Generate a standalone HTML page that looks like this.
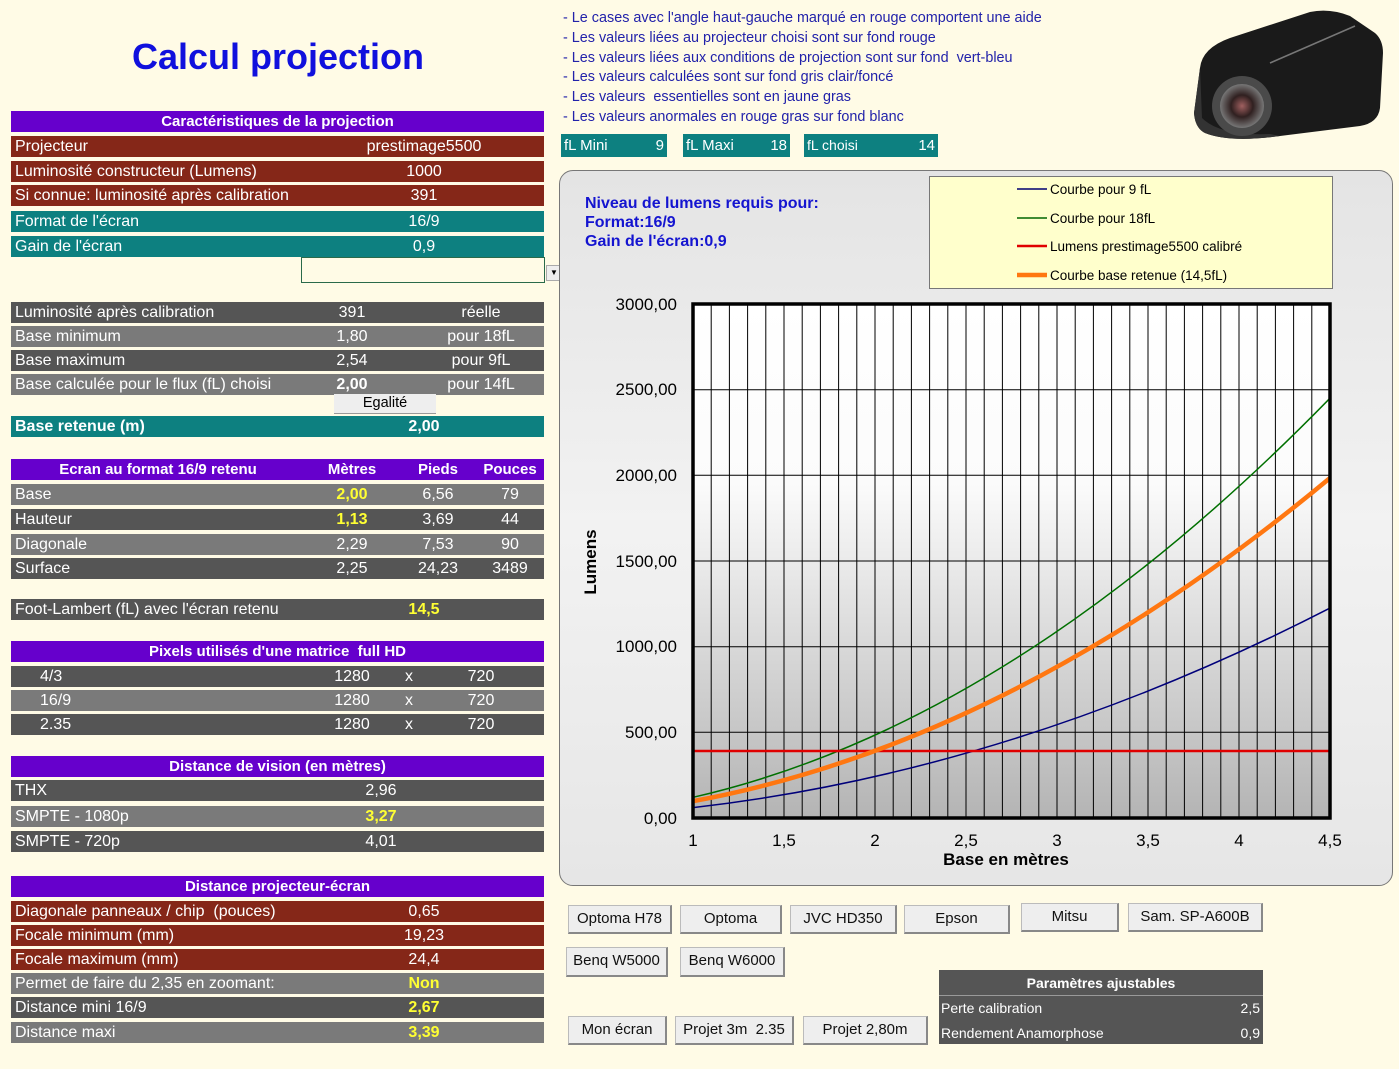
<!DOCTYPE html>
<html><head><meta charset="utf-8"><style>
body{margin:0;width:1399px;height:1069px;background:#fffbe6;position:relative;overflow:hidden;font-family:"Liberation Sans",Arial,sans-serif}
.r{position:absolute;left:11px;width:533px;height:21px;color:#fff;font-size:16px;line-height:21px;white-space:nowrap}
.r span{position:absolute;top:0}
.l{left:4px}
.c{transform:translateX(-50%)}
.P{background:#6600cc;font-weight:bold;text-align:center;font-size:15px}
.B{background:#852718}.T{background:#0d8080}.D{background:#555}.G{background:#7a7a7a}
.y{color:#ffff33;font-weight:bold}
.btn{position:absolute;background:#eeeeee;border:1px solid #bbb;border-right:2px solid #888;border-bottom:2px solid #888;font-size:15px;text-align:center;line-height:26px;color:#111;box-sizing:border-box}
.note{position:absolute;left:563px;font-size:14.4px;color:#2222aa}
.fl{position:absolute;top:134px;height:23px;background:#0d8080;color:#fff;font-size:15px;line-height:23px}
</style></head><body>
<div style="position:absolute;left:0;width:556px;top:36px;text-align:center;font-size:36px;font-weight:bold;color:#1010dd">Calcul projection</div>

<div class="r P" style="top:111px">Caractéristiques de la projection</div>
<div class="r B" style="top:136px"><span class="l">Projecteur</span><span class="c" style="left:413px">prestimage5500</span></div>
<div class="r B" style="top:161px"><span class="l">Luminosité constructeur (Lumens)</span><span class="c" style="left:413px">1000</span></div>
<div class="r B" style="top:185px"><span class="l">Si connue: luminosité après calibration</span><span class="c" style="left:413px">391</span></div>
<div class="r T" style="top:211px"><span class="l">Format de l'écran</span><span class="c" style="left:413px">16/9</span></div>
<div class="r T" style="top:236px"><span class="l">Gain de l'écran</span><span class="c" style="left:413px">0,9</span></div>
<div style="position:absolute;left:301px;top:257px;width:242px;height:24px;border:1px solid #2a6a4a;background:#fffbe6"></div>
<div style="position:absolute;left:546px;top:265px;width:14px;height:14px;background:#eee;border:1px solid #aaa;font-size:8px;text-align:center;line-height:14px">▼</div>

<div class="r D" style="top:302px"><span class="l">Luminosité après calibration</span><span class="c" style="left:341px">391</span><span class="c" style="left:470px">réelle</span></div>
<div class="r G" style="top:326px"><span class="l">Base minimum</span><span class="c" style="left:341px">1,80</span><span class="c" style="left:470px">pour 18fL</span></div>
<div class="r D" style="top:350px"><span class="l">Base maximum</span><span class="c" style="left:341px">2,54</span><span class="c" style="left:470px">pour 9fL</span></div>
<div class="r G" style="top:374px"><span class="l">Base calculée pour le flux (fL) choisi</span><span class="c" style="left:341px;font-weight:bold">2,00</span><span class="c" style="left:470px">pour 14fL</span></div>
<div style="position:absolute;left:334px;top:394px;width:102px;height:19px;background:#eee;border-bottom:1px solid #999;font-size:14.5px;text-align:center;line-height:19px">Egalité</div>
<div class="r T" style="top:416px;font-weight:bold"><span class="l">Base retenue (m)</span><span class="c" style="left:413px">2,00</span></div>

<div class="r P" style="top:459px"><span class="c" style="left:147px">Ecran au format 16/9 retenu</span><span class="c" style="left:341px">Mètres</span><span class="c" style="left:427px">Pieds</span><span class="c" style="left:499px">Pouces</span></div>
<div class="r G" style="top:484px"><span class="l">Base</span><span class="c y" style="left:341px">2,00</span><span class="c" style="left:427px">6,56</span><span class="c" style="left:499px">79</span></div>
<div class="r D" style="top:509px"><span class="l">Hauteur</span><span class="c y" style="left:341px">1,13</span><span class="c" style="left:427px">3,69</span><span class="c" style="left:499px">44</span></div>
<div class="r G" style="top:534px"><span class="l">Diagonale</span><span class="c" style="left:341px">2,29</span><span class="c" style="left:427px">7,53</span><span class="c" style="left:499px">90</span></div>
<div class="r D" style="top:558px"><span class="l">Surface</span><span class="c" style="left:341px">2,25</span><span class="c" style="left:427px">24,23</span><span class="c" style="left:499px">3489</span></div>

<div class="r D" style="top:599px"><span class="l">Foot-Lambert (fL) avec l'écran retenu</span><span class="c y" style="left:413px">14,5</span></div>

<div class="r P" style="top:641px">Pixels utilisés d'une matrice&nbsp; full HD</div>
<div class="r D" style="top:666px"><span style="left:29px">4/3</span><span class="c" style="left:341px">1280</span><span class="c" style="left:398px">x</span><span class="c" style="left:470px">720</span></div>
<div class="r G" style="top:690px"><span style="left:29px">16/9</span><span class="c" style="left:341px">1280</span><span class="c" style="left:398px">x</span><span class="c" style="left:470px">720</span></div>
<div class="r D" style="top:714px"><span style="left:29px">2.35</span><span class="c" style="left:341px">1280</span><span class="c" style="left:398px">x</span><span class="c" style="left:470px">720</span></div>

<div class="r P" style="top:756px">Distance de vision (en mètres)</div>
<div class="r D" style="top:780px"><span class="l">THX</span><span class="c" style="left:370px">2,96</span></div>
<div class="r G" style="top:806px"><span class="l">SMPTE - 1080p</span><span class="c y" style="left:370px">3,27</span></div>
<div class="r D" style="top:831px"><span class="l">SMPTE - 720p</span><span class="c" style="left:370px">4,01</span></div>

<div class="r P" style="top:876px">Distance projecteur-écran</div>
<div class="r B" style="top:901px"><span class="l">Diagonale panneaux / chip&nbsp; (pouces)</span><span class="c" style="left:413px">0,65</span></div>
<div class="r B" style="top:925px"><span class="l">Focale minimum (mm)</span><span class="c" style="left:413px">19,23</span></div>
<div class="r B" style="top:949px"><span class="l">Focale maximum (mm)</span><span class="c" style="left:413px">24,4</span></div>
<div class="r G" style="top:973px"><span class="l">Permet de faire du 2,35 en zoomant:</span><span class="c y" style="left:413px">Non</span></div>
<div class="r D" style="top:997px"><span class="l">Distance mini 16/9</span><span class="c y" style="left:413px">2,67</span></div>
<div class="r G" style="top:1022px"><span class="l">Distance maxi</span><span class="c y" style="left:413px">3,39</span></div>

<div class="note" style="top:10px">- Le cases avec l'angle haut-gauche marqué en rouge comportent une aide</div>
<div class="note" style="top:30px">- Les valeurs liées au projecteur choisi sont sur fond rouge</div>
<div class="note" style="top:50px">- Les valeurs liées aux conditions de projection sont sur fond&nbsp; vert-bleu</div>
<div class="note" style="top:69px">- Les valeurs calculées sont sur fond gris clair/foncé</div>
<div class="note" style="top:89px">- Les valeurs&nbsp; essentielles sont en jaune gras</div>
<div class="note" style="top:109px">- Les valeurs anormales en rouge gras sur fond blanc</div>

<div class="fl" style="left:561px;width:106px"><span style="position:absolute;left:3px">fL Mini</span><span style="position:absolute;right:3px">9</span></div>
<div class="fl" style="left:683px;width:107px"><span style="position:absolute;left:3px">fL Maxi</span><span style="position:absolute;right:3px">18</span></div>
<div class="fl" style="left:804px;width:134px"><span style="position:absolute;left:3px;font-size:14px">fL choisi</span><span style="position:absolute;right:3px">14</span></div>

<svg style="position:absolute;left:1190px;top:8px" width="200" height="135">
<defs><radialGradient id="ln" cx="50%" cy="50%" r="50%"><stop offset="0" stop-color="#a06060"/><stop offset="0.5" stop-color="#302020"/><stop offset="1" stop-color="#777"/></radialGradient></defs>
<path d="M10,60 Q12,40 40,30 L120,4 Q140,0 160,8 L185,25 Q193,32 193,45 L190,100 Q188,115 170,118 L90,128 Q40,135 15,125 Q5,120 4,105 Z" fill="#1a1a1a"/>
<path d="M10,60 L12,110 Q30,128 80,126 L90,128 Q40,135 15,125 Q5,120 4,105 Z" fill="#333"/>
<path d="M80,55 L165,18" stroke="#777" stroke-width="1.5"/>
<circle cx="52" cy="98" r="30" fill="#4a4a4a"/><circle cx="52" cy="98" r="22" fill="url(#ln)"/>
</svg>

<div style="position:absolute;left:559px;top:170px;width:834px;height:716px;border:1px solid #777;border-radius:14px;background:linear-gradient(#e4e4e4,#f2f2f2 50%,#e6e6e6);box-sizing:border-box"></div>
<div style="position:absolute;left:585px;top:194px;font-size:16px;font-weight:bold;color:#1414d0;line-height:19px">Niveau de lumens requis pour:<br>Format:16/9<br>Gain de l'écran:0,9</div>
<div style="position:absolute;left:929px;top:176px;width:404px;height:113px;background:#ffffcc;border:1px solid #777;box-sizing:border-box"></div>
<svg style="position:absolute;left:0;top:0" width="1399" height="1069">
<defs><linearGradient id="pg" x1="0" y1="0" x2="0" y2="1"><stop offset="0" stop-color="#fff"/><stop offset="0.35" stop-color="#fbfbfb"/><stop offset="1" stop-color="#b4b4b4"/></linearGradient></defs>
<g font-family="Liberation Sans" font-size="13.5" fill="#000">
<line x1="1017" y1="189" x2="1047" y2="189" stroke="#000070" stroke-width="1.5"/><text x="1050" y="194">Courbe pour 9 fL</text>
<line x1="1017" y1="218" x2="1047" y2="218" stroke="#006600" stroke-width="1.5"/><text x="1050" y="223">Courbe pour 18fL</text>
<line x1="1017" y1="246" x2="1047" y2="246" stroke="#e00000" stroke-width="2.5"/><text x="1050" y="251">Lumens prestimage5500 calibré</text>
<line x1="1017" y1="275" x2="1047" y2="275" stroke="#ff7711" stroke-width="4.5"/><text x="1050" y="280">Courbe base retenue (14,5fL)</text>
</g>
<rect x="693" y="304" width="637" height="514" fill="url(#pg)"/>
<g stroke="#000" stroke-width="1">
<line x1="711.2" y1="304" x2="711.2" y2="818"/><line x1="729.4" y1="304" x2="729.4" y2="818"/><line x1="747.6" y1="304" x2="747.6" y2="818"/><line x1="765.8" y1="304" x2="765.8" y2="818"/><line x1="784" y1="304" x2="784" y2="818"/><line x1="802.2" y1="304" x2="802.2" y2="818"/><line x1="820.4" y1="304" x2="820.4" y2="818"/><line x1="838.6" y1="304" x2="838.6" y2="818"/><line x1="856.8" y1="304" x2="856.8" y2="818"/><line x1="875" y1="304" x2="875" y2="818"/><line x1="893.2" y1="304" x2="893.2" y2="818"/><line x1="911.4" y1="304" x2="911.4" y2="818"/><line x1="929.6" y1="304" x2="929.6" y2="818"/><line x1="947.8" y1="304" x2="947.8" y2="818"/><line x1="966" y1="304" x2="966" y2="818"/><line x1="984.2" y1="304" x2="984.2" y2="818"/><line x1="1002.4" y1="304" x2="1002.4" y2="818"/><line x1="1020.6" y1="304" x2="1020.6" y2="818"/><line x1="1038.8" y1="304" x2="1038.8" y2="818"/><line x1="1057" y1="304" x2="1057" y2="818"/><line x1="1075.2" y1="304" x2="1075.2" y2="818"/><line x1="1093.4" y1="304" x2="1093.4" y2="818"/><line x1="1111.6" y1="304" x2="1111.6" y2="818"/><line x1="1129.8" y1="304" x2="1129.8" y2="818"/><line x1="1148" y1="304" x2="1148" y2="818"/><line x1="1166.2" y1="304" x2="1166.2" y2="818"/><line x1="1184.4" y1="304" x2="1184.4" y2="818"/><line x1="1202.6" y1="304" x2="1202.6" y2="818"/><line x1="1220.8" y1="304" x2="1220.8" y2="818"/><line x1="1239" y1="304" x2="1239" y2="818"/><line x1="1257.2" y1="304" x2="1257.2" y2="818"/><line x1="1275.4" y1="304" x2="1275.4" y2="818"/><line x1="1293.6" y1="304" x2="1293.6" y2="818"/><line x1="1311.8" y1="304" x2="1311.8" y2="818"/>
<line x1="693" y1="389.7" x2="1330" y2="389.7"/><line x1="693" y1="475.3" x2="1330" y2="475.3"/><line x1="693" y1="561" x2="1330" y2="561"/><line x1="693" y1="646.7" x2="1330" y2="646.7"/><line x1="693" y1="732.3" x2="1330" y2="732.3"/>
</g>
<path d="M693,807.6 Q1011.5,771.4 1330,608.1" fill="none" stroke="#00007a" stroke-width="1.5"/>
<path d="M693,797.3 Q1011.5,724.7 1330,398.2" fill="none" stroke="#007000" stroke-width="1.5"/>
<line x1="693" y1="751" x2="1330" y2="751" stroke="#e00000" stroke-width="2.5"/>
<path d="M693,801.2 Q1011.5,742.4 1330,478" fill="none" stroke="#ff7711" stroke-width="4.5"/>
<rect x="693" y="304" width="637" height="514" fill="none" stroke="#000" stroke-width="3.5"/>
<g font-family="Liberation Sans" font-size="17" fill="#000" text-anchor="end">
<text x="677" y="310">3000,00</text><text x="677" y="395">2500,00</text><text x="677" y="481">2000,00</text><text x="677" y="567">1500,00</text><text x="677" y="652">1000,00</text><text x="677" y="738">500,00</text><text x="677" y="824">0,00</text>
</g>
<g font-family="Liberation Sans" font-size="17" fill="#000" text-anchor="middle">
<text x="693" y="846">1</text><text x="784" y="846">1,5</text><text x="875" y="846">2</text><text x="966" y="846">2,5</text><text x="1057" y="846">3</text><text x="1148" y="846">3,5</text><text x="1239" y="846">4</text><text x="1330" y="846">4,5</text>
<text x="1006" y="865" font-weight="bold">Base en mètres</text>
<text transform="translate(596,562) rotate(-90)" font-weight="bold">Lumens</text>
</g>
</svg>

<div class="btn" style="left:568px;top:905px;width:104px;height:29px">Optoma H78</div>
<div class="btn" style="left:680px;top:905px;width:102px;height:29px">Optoma</div>
<div class="btn" style="left:790px;top:905px;width:107px;height:29px">JVC HD350</div>
<div class="btn" style="left:904px;top:905px;width:106px;height:29px">Epson</div>
<div class="btn" style="left:1021px;top:903px;width:98px;height:29px">Mitsu</div>
<div class="btn" style="left:1128px;top:903px;width:135px;height:29px">Sam. SP-A600B</div>
<div class="btn" style="left:566px;top:947px;width:102px;height:30px">Benq W5000</div>
<div class="btn" style="left:680px;top:947px;width:105px;height:30px">Benq W6000</div>
<div class="btn" style="left:568px;top:1016px;width:99px;height:29px">Mon écran</div>
<div class="btn" style="left:675px;top:1016px;width:119px;height:29px">Projet 3m&nbsp; 2.35</div>
<div class="btn" style="left:803px;top:1016px;width:125px;height:29px">Projet 2,80m</div>

<div style="position:absolute;left:939px;top:970px;width:324px;height:74px;background:#555;color:#fff;font-size:14px">
<div style="height:25px;line-height:27px;text-align:center;font-weight:bold;border-bottom:1px solid #999">Paramètres ajustables</div>
<div style="position:absolute;top:30px;left:2px">Perte calibration</div><div style="position:absolute;top:30px;right:3px">2,5</div>
<div style="position:absolute;top:55px;left:2px">Rendement Anamorphose</div><div style="position:absolute;top:55px;right:3px">0,9</div>
</div>
</body></html>
